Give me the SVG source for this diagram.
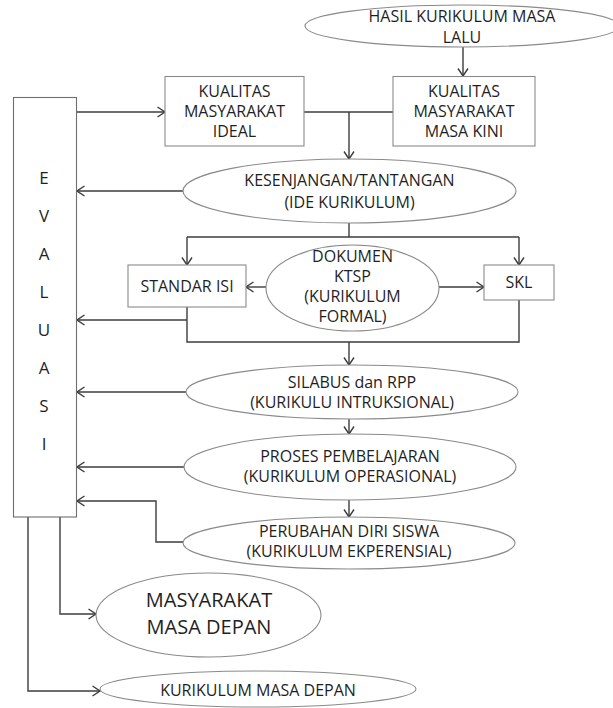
<svg xmlns="http://www.w3.org/2000/svg" width="613" height="708" viewBox="0 0 613 708">
  <style>
    text { font-family: "Open Sans", "Liberation Sans", sans-serif; fill: #1f1f1f; text-anchor: middle; }
    .t { font-size: 16px; }
    .big { font-size: 20px; }
    .ev { font-size: 17px; }
    .shape { fill: #ffffff; stroke: #8a8a8a; stroke-width: 1.1; }
    .evbox { fill: #ffffff; stroke: #6e6e6e; stroke-width: 1.1; }
    .link { fill: none; stroke: #3c3c3c; stroke-width: 1.4; }
    .arrow { marker-end: url(#head); }
  </style>
  <defs>
    <marker id="head" markerUnits="userSpaceOnUse" viewBox="0 0 10 12" markerWidth="10" markerHeight="12" refX="8.5" refY="6" orient="auto">
      <path d="M1,1 L8.5,6 L1,11" fill="none" stroke="#3c3c3c" stroke-width="1.4"/>
    </marker>
  </defs>

  <rect width="613" height="708" fill="#ffffff"/>

  <!-- connectors -->
  <g id="connectors">
    <path class="link arrow" d="M463,47 V76"/>
    <path class="link arrow" d="M77,112 H165"/>
    <path class="link" d="M304,112 H393"/>
    <path class="link arrow" d="M349,112 V159"/>
    <path class="link arrow" d="M183,191 H77"/>
    <path class="link" d="M349,223 V237"/>
    <path class="link arrow" d="M187,237 V265"/>
    <path class="link" d="M187,237 H519"/>
    <path class="link arrow" d="M519,237 V265"/>
    <path class="link arrow" d="M266,287 H246"/>
    <path class="link arrow" d="M439,287 H484"/>
    <path class="link" d="M187,307 V342 H519 V300"/>
    <path class="link arrow" d="M187,320 H77"/>
    <path class="link arrow" d="M349,342 V365"/>
    <path class="link arrow" d="M186,392 H77"/>
    <path class="link arrow" d="M349,419 V434"/>
    <path class="link arrow" d="M184,467 H77"/>
    <path class="link arrow" d="M349,500 V517"/>
    <path class="link arrow" d="M183,542 H156 V501 H77"/>
    <path class="link arrow" d="M60,517 V614 H96"/>
    <path class="link arrow" d="M28,517 V691 H100"/>
  </g>

  <g id="hasil-masa-lalu">
    <ellipse class="shape" cx="462" cy="26" rx="157" ry="21"/>
    <text class="t" x="462" y="22">HASIL KURIKULUM MASA</text>
    <text class="t" x="462" y="43">LALU</text>
  </g>

  <g id="evaluasi">
    <rect class="evbox" x="13.5" y="97.5" width="63" height="419.5"/>
    <text class="ev" x="44" y="184">E</text>
    <text class="ev" x="44" y="222">V</text>
    <text class="ev" x="44" y="260">A</text>
    <text class="ev" x="44" y="298">L</text>
    <text class="ev" x="44" y="336">U</text>
    <text class="ev" x="44" y="374">A</text>
    <text class="ev" x="44" y="412">S</text>
    <text class="ev" x="44" y="450">I</text>
  </g>

  <g id="kualitas-ideal">
    <rect class="shape" x="165" y="76.5" width="139" height="69.5"/>
    <text class="t" x="234.5" y="97">KUALITAS</text>
    <text class="t" x="234.5" y="117">MASYARAKAT</text>
    <text class="t" x="234.5" y="137">IDEAL</text>
  </g>

  <g id="kualitas-kini">
    <rect class="shape" x="393" y="76.5" width="142" height="69.5"/>
    <text class="t" x="464" y="97">KUALITAS</text>
    <text class="t" x="464" y="117">MASYARAKAT</text>
    <text class="t" x="464" y="137">MASA KINI</text>
  </g>

  <g id="kesenjangan">
    <ellipse class="shape" cx="349.5" cy="191" rx="166.5" ry="32"/>
    <text class="t" x="349.5" y="186">KESENJANGAN/TANTANGAN</text>
    <text class="t" x="349.5" y="208">(IDE KURIKULUM)</text>
  </g>

  <g id="standar-isi">
    <rect class="shape" x="128" y="265" width="118" height="42"/>
    <text class="t" x="187" y="292">STANDAR ISI</text>
  </g>

  <g id="dokumen-ktsp">
    <ellipse class="shape" cx="352.5" cy="288" rx="86.5" ry="43"/>
    <text class="t" x="352.5" y="262">DOKUMEN</text>
    <text class="t" x="352.5" y="282">KTSP</text>
    <text class="t" x="352.5" y="302">(KURIKULUM</text>
    <text class="t" x="352.5" y="322">FORMAL)</text>
  </g>

  <g id="skl">
    <rect class="shape" x="484" y="265" width="70" height="35"/>
    <text class="t" x="519" y="288">SKL</text>
  </g>

  <g id="silabus-rpp">
    <ellipse class="shape" cx="352" cy="392" rx="166" ry="27"/>
    <text class="t" x="352" y="388">SILABUS dan RPP</text>
    <text class="t" x="352" y="408">(KURIKULU INTRUKSIONAL)</text>
  </g>

  <g id="proses-pembelajaran">
    <ellipse class="shape" cx="350" cy="467" rx="166" ry="33"/>
    <text class="t" x="350" y="462">PROSES PEMBELAJARAN</text>
    <text class="t" x="350" y="482">(KURIKULUM OPERASIONAL)</text>
  </g>

  <g id="perubahan-diri">
    <ellipse class="shape" cx="349" cy="543" rx="166" ry="26"/>
    <text class="t" x="349" y="537">PERUBAHAN DIRI SISWA</text>
    <text class="t" x="349" y="557">(KURIKULUM EKPERENSIAL)</text>
  </g>

  <g id="masyarakat-masa-depan">
    <ellipse class="shape" cx="208.5" cy="615" rx="112.5" ry="42"/>
    <text class="big" x="209" y="607">MASYARAKAT</text>
    <text class="big" x="209" y="634">MASA DEPAN</text>
  </g>

  <g id="kurikulum-masa-depan">
    <ellipse class="shape" cx="258" cy="689" rx="158" ry="18"/>
    <text class="t" x="258" y="696">KURIKULUM MASA DEPAN</text>
  </g>
</svg>
